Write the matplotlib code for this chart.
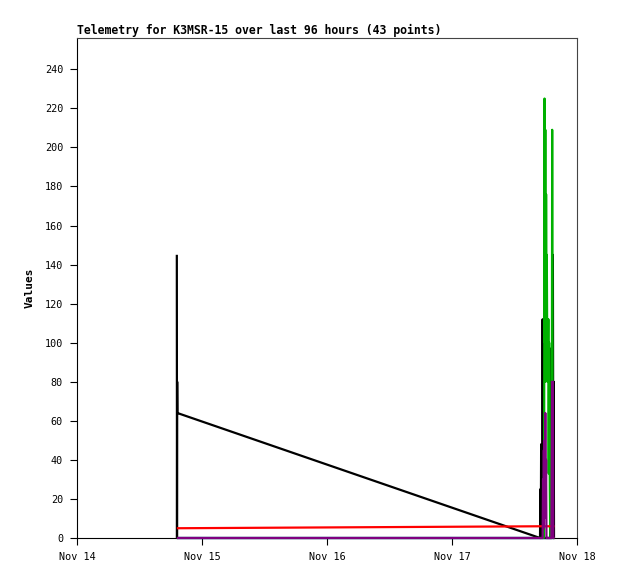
import pandas as pd
import numpy as np
import matplotlib
matplotlib.use('Agg')
import matplotlib.pyplot as plt
import matplotlib.dates as mdates

plt.rcParams['font.family'] = 'DejaVu Sans Mono'

# timestamps of the 43 telemetry packets
left_times = ['2024-11-14 19:10', '2024-11-14 19:12', '2024-11-14 19:14', '2024-11-14 19:16']
cluster_clock = ['16:54', '16:58', '17:03', '17:07', '17:11', '17:16', '17:20', '17:24',
                 '17:29', '17:33', '17:38', '17:42', '17:46', '17:51', '17:55', '17:59',
                 '18:04', '18:08', '18:12', '18:17', '18:21', '18:26', '18:30', '18:34',
                 '18:39', '18:43', '18:47', '18:52', '18:56', '19:00', '19:05', '19:09',
                 '19:14', '19:18', '19:22', '19:27', '19:31', '19:35', '19:40']
times = pd.to_datetime(left_times + ['2024-11-17 ' + c for c in cluster_clock])

# channel values (4 early points + 39 cluster points)
ch_blue = [0] * 43
ch_black = [145, 0, 80, 64,
            0, 25, 0, 48, 0, 10, 0, 112, 0, 20, 0, 0, 0, 0, 0, 0,
            0, 0, 0, 0, 0, 0, 0, 0, 0, 0, 0, 0, 97, 0, 30, 0,
            0, 60, 145, 25, 80, 0, 0]
ch_green = [0, 0, 0, 0,
            0, 0, 0, 0, 0, 0, 0, 0, 0, 0, 0, 60, 225, 100, 209, 80,
            176, 120, 145, 100, 112, 80, 112, 33, 100, 60, 25, 0, 0, 0, 0, 0,
            209, 80, 0, 0, 0, 0, 0]
ch_red = [5, 5, 5, 5] + [6] * 39
ch_purple = [0, 0, 0, 0,
             0, 0, 0, 0, 0, 0, 0, 0, 30, 5, 45, 10, 50, 20, 64, 15,
             40, 0, 0, 0, 0, 0, 0, 0, 0, 0, 0, 0, 0, 0, 0, 40,
             80, 25, 80, 0, 0, 0, 0]

series = [
    (ch_blue, '#0000ff'),
    (ch_black, '#000000'),
    (ch_green, '#00b000'),
    (ch_red, '#ff0000'),
    (ch_purple, '#800080'),
]

fig = plt.figure(figsize=(6.18, 5.79), dpi=100)
ax = fig.add_axes([77 / 618, 41 / 579, 500 / 618, 500 / 579])

for vals, col in series:
    ax.plot(times, vals, color=col, linewidth=1.6, solid_capstyle='butt',
            clip_on=False, zorder=3)

ax.set_xlim(pd.Timestamp('2024-11-14'), pd.Timestamp('2024-11-18'))
ax.set_ylim(0, 256)
ax.set_yticks(np.arange(0, 241, 20))
ax.xaxis.set_major_locator(mdates.DayLocator())
ax.xaxis.set_major_formatter(mdates.DateFormatter('%b %d'))

ax.tick_params(axis='both', direction='out', length=5, width=0.8, labelsize=7.3, colors='black')
ax.tick_params(axis='x', pad=5)
ax.tick_params(axis='y', pad=5)

ax.spines['left'].set_color('black')
ax.spines['bottom'].set_color('black')
ax.spines['top'].set_color('#444444')
ax.spines['right'].set_color('#444444')
for s in ax.spines.values():
    s.set_linewidth(0.8)

ax.set_ylabel('Values', fontsize=8, fontweight='bold', labelpad=7)
ax.set_title('Telemetry for K3MSR-15 over last 96 hours (43 points)',
             loc='left', fontsize=8.3, fontweight='bold', pad=3)

plt.savefig('out.png', dpi=100)
